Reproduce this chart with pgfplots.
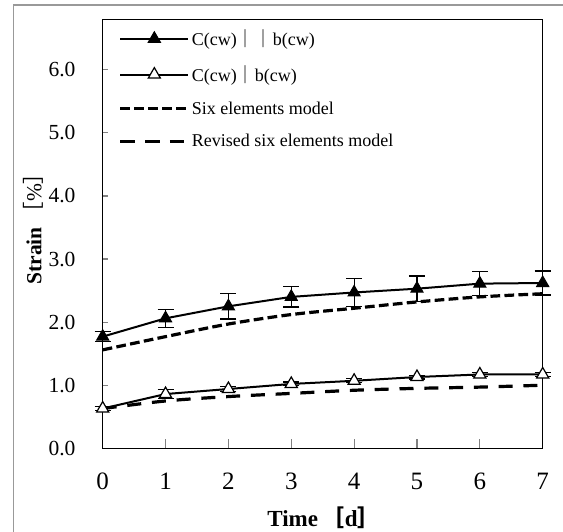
\documentclass[border=0pt]{standalone}
\usepackage{pgfplots}
\pgfplotsset{compat=1.18}
\usepackage{pgfplotstable}
\usepackage{fontspec}
\setmainfont{Liberation Serif}
\newfontfamily\cjk{Noto Sans CJK JP}
\pgfplotstableread{
x y e
0 1.77 0.08
1 2.06 0.14
2 2.25 0.20
3 2.40 0.16
4 2.47 0.22
5 2.53 0.20
6 2.61 0.19
7 2.62 0.19
}\datapar
\pgfplotstableread{
x y e
0 0.63 0.03
1 0.86 0.07
2 0.94 0.04
3 1.02 0.03
4 1.07 0.03
5 1.13 0.03
6 1.17 0.03
7 1.17 0.03
}\dataperp
\pgfplotstableread{
x y
0 1.56
1 1.77
2 1.97
3 2.12
4 2.22
5 2.32
6 2.40
7 2.45
}\datasix
\pgfplotstableread{
x y
0 0.63
1 0.75
2 0.82
3 0.87
4 0.92
5 0.95
6 0.97
7 1.00
}\datarevised
\begin{document}
\begin{tikzpicture}
\path[use as bounding box] (-102.7pt,-83.7pt) rectangle (460.3pt,448.3pt);
\draw[black!40, line width=1.2pt] (-89.4pt,-90pt) -- (-89.4pt,443.3pt) -- (470pt,443.3pt);
\begin{axis}[
  at={(0pt,0pt)}, anchor=south west,
  scale only axis, width=440pt, height=429pt,
  xmin=0, xmax=7, ymin=0, ymax=6.8,
  xtick={0,1,...,7}, ytick={0,1,...,6},
  axis line style={line width=1.5pt},
  tick align=inside,
  xtick pos=bottom, ytick pos=left,
  x tick style={line width=1.2pt, /pgfplots/major tick length=9pt},
  y tick style={line width=1.2pt, /pgfplots/major tick length=5pt},
  /pgf/number format/assume math mode=true,
  yticklabel style={/pgf/number format/.cd, fixed, fixed zerofill, precision=1, /tikz/.cd, font=\fontsize{21.5}{24}\selectfont, anchor=east, inner sep=0pt, xshift=-27pt},
  xticklabel style={font=\fontsize{25}{28}\selectfont, anchor=center, inner sep=0pt, yshift=-33pt},
  xlabel={\textbf{Time}\,{\cjk\bfseries ［}\textbf{d}{\cjk\bfseries ］}},
  ylabel={\textbf{Strain}\,{\cjk ［}\%{\cjk ］}},
  xlabel style={font=\fontsize{23}{26}\selectfont, at={(axis description cs:0.503,-0.163)}, anchor=center},
  ylabel style={font=\fontsize{21.5}{24}\selectfont, at={(axis description cs:-0.158,0.524)}, anchor=center},
  clip=false,
  legend cell align=left,
  legend style={draw=none, fill=none, at={(axis description cs:0.036,0.98)}, anchor=north west,
    font=\fontsize{18}{21}\selectfont, row sep=14.5pt, inner sep=0pt,
    /tikz/every even column/.append style={column sep=0pt}},
  legend image code/.code={\draw[mark repeat=2,mark phase=2,#1] plot coordinates {(0pt,0pt) (34pt,0pt) (68pt,0pt)};},
]
\addplot[black, line width=2pt, mark=triangle*, mark size=7pt, mark options={solid, fill=black, line width=1pt},
  error bars/.cd, y dir=both, y explicit,
  error bar style={line width=1.2pt, solid},
  error mark options={rotate=90, mark size=8pt, line width=1.2pt}]
  table[x=x, y=y, y error=e] {\datapar};
\addlegendentry{C(cw){\cjk ｜｜}b(cw)}
\addplot[black, line width=2pt, mark=triangle*, mark size=7pt, mark options={solid, fill=white, line width=1.2pt},
  error bars/.cd, y dir=both, y explicit,
  error bar style={line width=1.2pt, solid},
  error mark options={rotate=90, mark size=8pt, line width=1.2pt}]
  table[x=x, y=y, y error=e] {\dataperp};
\addlegendentry{C(cw){\cjk ｜}b(cw)}
\addplot[black, line width=3.2pt, dash pattern=on 9.7pt off 4.3pt, smooth] table[x=x, y=y] {\datasix};
\addlegendentry{Six elements model}
\addplot[black, line width=3.2pt, dash pattern=on 14pt off 10.8pt, smooth] table[x=x, y=y] {\datarevised};
\addlegendentry{Revised six elements model}
\end{axis}
\end{tikzpicture}
\end{document}
